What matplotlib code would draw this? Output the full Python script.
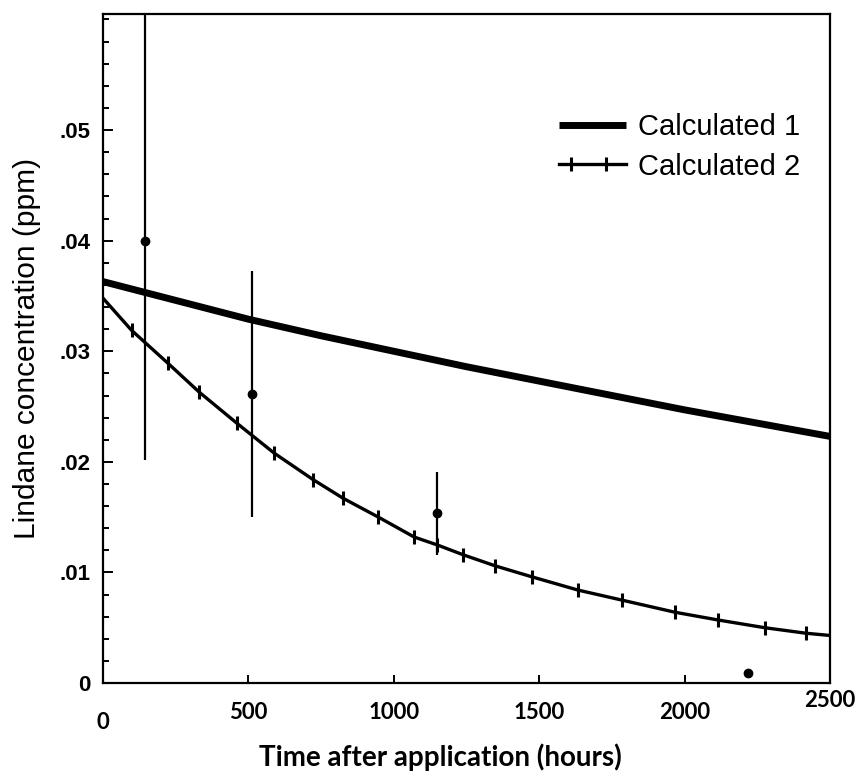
import numpy as np
import matplotlib
matplotlib.use("Agg")
import matplotlib.pyplot as plt
from matplotlib.ticker import MultipleLocator, FixedLocator, FixedFormatter
from matplotlib.legend_handler import HandlerLine2D

# calculated curve 1 (slow decay)
calc1_hours = [0, 250, 500, 750, 1000, 1250, 1500, 1750, 2000, 2250, 2500]
calc1_ppm = [0.0363, 0.0346, 0.0329, 0.0314, 0.0300, 0.0286, 0.0273, 0.0260, 0.0247, 0.0235, 0.0223]

# calculated curve 2 (fast decay), endpoints plus the ticked points along it
calc2_hours = [0, 98, 224, 331, 460, 588, 722, 826, 947, 1070, 1148, 1238, 1348,
               1475, 1634, 1784, 1967, 2115, 2276, 2418, 2500]
calc2_ppm = [0.0348, 0.0319, 0.0289, 0.0263, 0.0235, 0.0208, 0.0184, 0.0167, 0.0150,
             0.0132, 0.0125, 0.0116, 0.0106, 0.0096, 0.0084, 0.0075, 0.0064, 0.0057,
             0.0050, 0.0045, 0.0043]

# measured values with error bars
obs_hours = [144, 512, 1149, 2218]
obs_ppm = [0.0400, 0.0261, 0.0154, 0.0009]
obs_err_low = [0.0198, 0.0111, 0.0038, 0.0]
obs_err_high = [0.0220, 0.0112, 0.0037, 0.0]

x_ticks = [0, 500, 1000, 1500, 2000, 2500]
x_labels = ["0", "500", "1000", "1500", "2000", "2500"]
y_ticks = [0, 0.01, 0.02, 0.03, 0.04, 0.05]
y_labels = ["0", ".01", ".02", ".03", ".04", ".05"]


class FullLineHandler(HandlerLine2D):
    # line over the whole handle width
    def get_xdata(self, legend, xdescent, ydescent, width, height, fontsize):
        x = np.array([-xdescent, -xdescent + width])
        return x, x


class TickedLineHandler(HandlerLine2D):
    # full-width line with two tick marks set in from the ends
    def get_xdata(self, legend, xdescent, ydescent, width, height, fontsize):
        x = -xdescent + width * np.array([0.0, 0.18, 0.7, 1.0])
        return x, x

    def create_artists(self, *args, **kwargs):
        arts = super().create_artists(*args, **kwargs)
        arts[0].set_markevery([1, 2])
        return arts


fig = plt.figure(figsize=(8.62, 7.76), dpi=100)
ax = fig.add_axes([0.1195, 0.1198, 0.8435, 0.8622])

l1, = ax.plot(calc1_hours, calc1_ppm, color="black", lw=5, solid_capstyle="butt",
              label="Calculated 1")
l2, = ax.plot(calc2_hours, calc2_ppm, color="black", lw=2.4, marker="|", ms=10, mew=2.2,
              markevery=list(range(1, len(calc2_hours) - 1)), label="Calculated 2")

ax.errorbar(obs_hours, obs_ppm, yerr=[obs_err_low, obs_err_high], fmt="o",
            color="black", ms=6, elinewidth=1.6, capsize=0)

ax.set_xlim(0, 2500)
ax.set_ylim(0, 0.0605)

for s in ax.spines.values():
    s.set_linewidth(1.6)

ax.xaxis.set_major_locator(FixedLocator(x_ticks))
ax.xaxis.set_major_formatter(FixedFormatter(x_labels))
ax.yaxis.set_major_locator(FixedLocator(y_ticks))
ax.yaxis.set_major_formatter(FixedFormatter(y_labels))
ax.yaxis.set_minor_locator(MultipleLocator(0.002))
ax.tick_params(axis="both", which="both", direction="in", width=1.4,
               top=False, right=False)
ax.tick_params(axis="y", which="major", length=7, pad=9)
ax.tick_params(axis="y", which="minor", length=4)
ax.tick_params(axis="x", which="major", length=6, pad=14)

for lbl in ax.get_yticklabels():
    lbl.set_fontfamily("Liberation Sans")
    lbl.set_fontsize(16)
    lbl.set_fontweight("bold")
xlbls = ax.get_xticklabels()
for lbl in xlbls:
    lbl.set_fontfamily("Lato")
    lbl.set_fontsize(16)
    lbl.set_fontweight("bold")
# first label sits a bit lower, last one a bit higher
xlbls[0].set_y(-0.014)
xlbls[-1].set_y(0.018)

ax.set_xlabel("Time after application (hours)", fontfamily="Lato", fontsize=20,
              fontweight="bold")
ax.xaxis.set_label_coords(0.464, -0.09)
ax.set_ylabel("Lindane concentration (ppm)", fontfamily="Liberation Sans",
              fontsize=21.5, labelpad=13)

leg = ax.legend(handler_map={l1: FullLineHandler(), l2: TickedLineHandler()},
                loc="upper right", bbox_to_anchor=(0.959, 0.852), frameon=False,
                borderpad=0, borderaxespad=0, numpoints=2, handlelength=2.3,
                handletextpad=0.4, labelspacing=0.4,
                prop={"family": "Liberation Sans", "size": 21})

fig.savefig("out.png", dpi=100)
